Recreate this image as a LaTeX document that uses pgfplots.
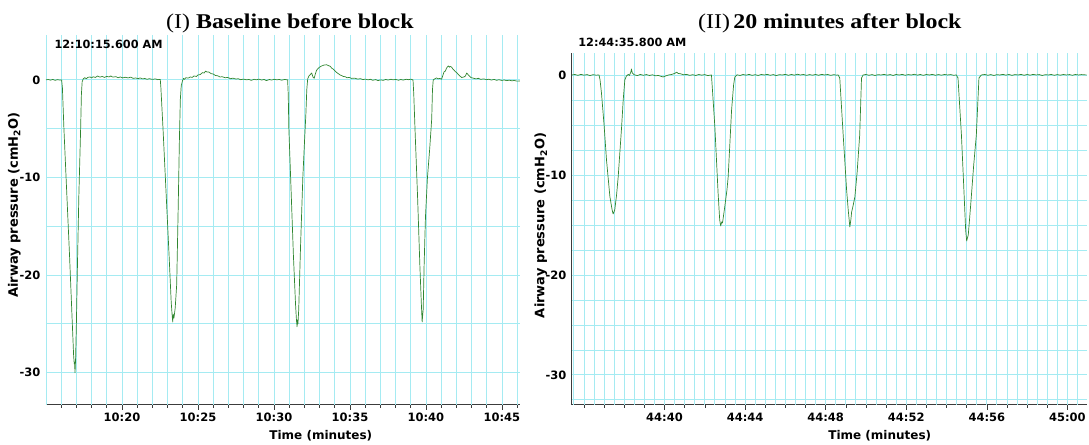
\documentclass[border=0pt]{standalone}
\usepackage{fontspec}
\setmainfont{DejaVu Sans}
\newfontfamily\ttlfont[FakeStretch=1.14]{Liberation Serif}
\usepackage{pgfplots}
\pgfplotsset{compat=1.18}
\definecolor{gridc}{RGB}{165,235,242}
\definecolor{trace}{RGB}{48,134,48}
\definecolor{axc}{RGB}{60,60,60}

\pgfplotsset{
  labchart/.style={
    scale only axis, anchor=south west,
    axis x line*=bottom, axis y line*=left,
    axis line style={axc, line width=0.9pt},
    tick align=outside,
    major tick length=5pt, minor tick length=3pt,
    xtick style={axc, line width=0.6pt},
    ytick style={draw=none},
    tick label style={font=\fontsize{11.5}{13}\bfseries\selectfont},
    yticklabel style={xshift=3pt},
    xlabel style={font=\fontsize{12}{14}\bfseries\selectfont, anchor=north},
    every axis y label/.style={rotate=90, anchor=center,
      font=\fontsize{13}{15}\bfseries\selectfont},
    extra x tick labels={}, extra y tick labels={},
    extra x tick style={grid=major, major tick length=0pt},
    extra y tick style={grid=major, major tick length=0pt},
    major grid style={gridc, line width=0.8pt},
    ytick={-30,-20,-10,0}, yticklabels={-30,-20,-10,0},
    xlabel={Time (minutes)},
    ylabel={Airway pressure (cmH\textsubscript{2}O)},
  },
  trc/.style={trace, line width=0.7pt, line join=round},
}

\begin{document}
\begin{tikzpicture}
\path (0pt,0pt) rectangle (1089pt,443pt);

% (I) baseline
\begin{axis}[labchart, at={(46pt,38pt)}, width=474pt, height=370pt,
  xmin=15, xmax=46.18, ymin=-33.3, ymax=4.6,
  xtick={20,25,...,45}, xticklabels={10:20,10:25,10:30,10:35,10:40,10:45},
  minor xtick={16,17,...,46},
  extra x ticks={15,16,...,46},
  extra y ticks={-30,-25,...,0},
  xlabel style={at={(axis description cs:0.58,0)}, yshift=-22pt},
  ylabel style={at={(axis description cs:-0.067,0.54)}},
]
\addplot[trc] table {
15.0 0.0
15.15 0.04
15.3 -0.03
15.45 0.05
15.6 -0.05
15.75 0.03
15.9 -0.02
16.03 0.0
16.08 -0.8
16.18 -5
16.35 -11
16.55 -18
16.72 -24.5
16.82 -28.3
16.86 -29.1
16.88 -28.9
16.91 -30.0
16.95 -28.5
17.0 -25
17.07 -19
17.16 -12
17.28 -5
17.33 -1.5
17.38 -0.2
17.45 0.1
17.55 0.22
17.65 0.12
17.75 0.25
17.9 0.3
18.0 0.2
18.1 0.32
18.25 0.25
18.4 0.4
18.55 0.28
18.7 0.35
18.85 0.25
19.0 0.36
19.15 0.3
19.26 0.4
19.4 0.28
19.6 0.33
19.75 0.22
19.9 0.3
20.05 0.2
20.2 0.27
20.4 0.2
20.57 0.28
20.75 0.15
20.9 0.2
21.05 0.12
21.2 0.2
21.35 0.1
21.5 0.14
21.65 0.06
21.8 0.12
22.0 0.05
22.2 0.1
22.35 0.02
22.52 0.05
22.56 -0.8
22.7 -5
22.9 -11.5
23.1 -18
23.24 -22.8
23.3 -24.1
23.34 -24.8
23.37 -24.0
23.42 -24.4
23.5 -23.4
23.6 -21
23.7 -13
23.78 -6
23.84 -2
23.9 -0.6
23.98 -0.1
24.05 0.15
24.12 0.05
24.2 0.22
24.35 0.18
24.5 0.3
24.62 0.25
24.74 0.4
24.9 0.35
25.0 0.5
25.15 0.55
25.3 0.75
25.4 0.7
25.5 0.9
25.6 0.8
25.72 0.8
25.85 0.65
26.0 0.6
26.15 0.45
26.3 0.42
26.45 0.3
26.6 0.32
26.8 0.22
26.95 0.25
27.15 0.12
27.3 0.18
27.5 0.08
27.65 0.12
27.8 0.02
28.0 0.08
28.2 0.0
28.35 0.05
28.5 -0.05
28.7 0.06
28.85 0.0
29.0 0.08
29.2 -0.02
29.35 0.05
29.5 -0.08
29.7 0.04
29.85 -0.02
30.0 0.06
30.2 0.0
30.35 0.05
30.5 -0.03
30.7 0.04
30.9 0.0
30.94 -1.5
30.98 -5
31.12 -11
31.28 -18
31.42 -23
31.48 -24.6
31.52 -25.3
31.55 -24.6
31.58 -25.0
31.63 -23.5
31.75 -17
31.9 -10
32.02 -6
32.1 -3.5
32.16 -1
32.22 0.1
32.3 0.4
32.42 0.6
32.48 0.7
32.58 0.25
32.65 0.17
32.72 0.6
32.81 1.0
32.9 1.15
33.0 1.3
33.14 1.43
33.3 1.52
33.47 1.55
33.6 1.45
33.7 1.4
33.8 1.2
33.9 1.1
34.0 0.95
34.13 0.75
34.25 0.62
34.35 0.5
34.45 0.45
34.56 0.35
34.7 0.32
34.8 0.22
34.95 0.25
35.11 0.15
35.3 0.18
35.5 0.08
35.7 0.12
35.85 0.03
36.0 0.08
36.2 0.0
36.35 0.06
36.5 -0.04
36.7 0.03
36.85 -0.08
37.0 0.0
37.2 -0.05
37.35 0.05
37.5 -0.02
37.7 0.06
37.85 0.0
38.0 0.05
38.2 -0.04
38.35 0.04
38.5 -0.02
38.7 0.06
38.85 0.02
39.0 0.07
39.15 0.0
39.2 -1.5
39.28 -5
39.45 -12
39.6 -19
39.7 -23
39.75 -24.8
39.78 -24.2
39.82 -23.5
39.88 -19
39.97 -14
40.1 -10
40.25 -7
40.38 -4
40.43 -1
40.48 0.0
40.6 0.12
40.7 0.2
40.8 0.1
40.9 0.15
41.03 0.07
41.1 0.4
41.2 0.85
41.28 0.9
41.35 1.2
41.47 1.43
41.55 1.3
41.6 1.38
41.69 1.3
41.78 1.1
41.85 1.0
41.93 0.85
42.02 0.75
42.1 0.6
42.2 0.45
42.35 0.24
42.5 0.3
42.6 0.4
42.68 0.7
42.74 0.6
42.85 0.4
42.96 0.24
43.1 0.18
43.3 0.1
43.45 0.16
43.6 0.05
43.8 0.1
44.0 0.02
44.15 0.07
44.3 -0.02
44.5 0.05
44.65 -0.05
44.8 0.02
45.0 -0.06
45.15 0.0
45.3 -0.08
45.5 -0.03
45.65 -0.1
45.8 -0.06
46.0 -0.13
46.18 -0.12
};
\end{axis}

% (II) 20 minutes after block
\begin{axis}[labchart, at={(572pt,38pt)}, width=515pt, height=352pt,
  xmin=35.4, xmax=60.96, ymin=-33.0, ymax=2.2,
  xtick={40,44,...,60}, xticklabels={44:40,44:44,44:48,44:52,44:56,45:00},
  minor xtick={36,37,...,60},
  extra x ticks={35.5,36,...,60.5},
  extra y ticks={-32.5,-30,...,0},
  xlabel style={at={(axis description cs:0.598,0)}, yshift=-22pt},
  ylabel style={at={(axis description cs:-0.06,0.51)}},
]
\addplot[trc] table {
35.4 0.0
35.55 0.05
35.7 -0.04
35.85 0.06
36.0 -0.02
36.15 0.04
36.3 -0.06
36.45 0.03
36.6 -0.02
36.75 0.0
36.8 -0.5
36.87 -1.8
37.0 -5
37.12 -8.5
37.29 -12.2
37.4 -13.5
37.45 -13.9
37.53 -13.5
37.62 -12
37.7 -10.2
37.87 -5.2
37.95 -2.5
38.03 -0.5
38.11 -0.1
38.2 0.05
38.26 -0.05
38.33 0.3
38.36 0.6
38.4 0.2
38.5 0.02
38.65 -0.06
38.8 0.05
38.95 -0.03
39.1 0.04
39.25 -0.05
39.4 0.02
39.55 -0.08
39.7 -0.05
39.85 -0.15
39.93 -0.2
40.05 -0.1
40.2 0.0
40.35 0.05
40.45 0.12
40.55 0.2
40.6 0.28
40.68 0.15
40.8 0.12
40.95 0.02
41.1 0.06
41.25 -0.04
41.4 0.03
41.55 -0.05
41.7 0.05
41.85 -0.02
42.0 0.04
42.15 -0.06
42.33 0.0
42.38 -1.5
42.5 -5.2
42.66 -11.8
42.74 -14.5
42.79 -15.1
42.84 -14.7
42.88 -14.8
42.99 -13.2
43.1 -11.5
43.16 -10.2
43.33 -3.5
43.43 -1
43.49 -0.2
43.6 0.02
43.75 -0.05
43.9 0.05
44.05 -0.02
44.2 0.06
44.35 -0.04
44.5 0.03
44.65 -0.05
44.8 0.05
44.95 0.0
45.1 0.06
45.25 -0.03
45.4 0.04
45.55 -0.06
45.7 0.03
45.85 0.0
46.0 0.06
46.15 -0.03
46.3 0.05
46.45 -0.02
46.6 0.07
46.75 0.0
46.9 0.05
47.05 -0.04
47.2 0.04
47.35 -0.02
47.5 0.05
47.65 -0.03
47.8 0.06
47.95 0.0
48.1 0.05
48.25 -0.04
48.4 0.03
48.55 -0.02
48.62 0.0
48.7 -0.3
48.87 -6
49.04 -11.5
49.12 -13.5
49.2 -15.2
49.25 -14.5
49.29 -13.7
49.37 -13
49.45 -12.2
49.56 -9.8
49.69 -6
49.78 -0.3
49.86 0.0
50.0 0.05
50.15 -0.03
50.3 0.04
50.45 -0.05
50.6 0.03
50.75 0.0
50.9 0.06
51.05 -0.02
51.2 0.04
51.35 -0.05
51.5 0.05
51.65 0.0
51.8 0.06
51.95 -0.03
52.1 0.04
52.25 0.0
52.4 0.07
52.55 -0.02
52.7 0.05
52.85 -0.04
53.0 0.05
53.15 0.0
53.3 0.06
53.45 -0.03
53.6 0.04
53.75 -0.02
53.9 0.05
54.05 0.0
54.2 0.04
54.35 -0.03
54.49 0.0
54.57 -0.3
54.74 -6
54.83 -10
54.95 -15.5
55.0 -16.6
55.08 -16.0
55.2 -13
55.35 -9
55.48 -6
55.61 -0.3
55.73 0.0
55.9 0.05
56.05 -0.03
56.2 0.04
56.35 -0.05
56.5 0.03
56.65 0.0
56.8 0.06
56.95 -0.02
57.1 0.05
57.25 -0.04
57.4 0.04
57.55 0.0
57.7 0.06
57.85 -0.03
58.0 0.05
58.15 -0.02
58.3 0.06
58.45 0.0
58.6 0.04
58.75 -0.05
58.9 0.03
59.05 0.0
59.2 0.05
59.35 -0.03
59.5 0.04
59.65 -0.02
59.8 0.05
59.95 0.0
60.1 0.04
60.25 -0.03
60.4 0.05
60.55 0.0
60.7 0.04
60.96 0.0
};
\end{axis}

\node[anchor=base west, font=\fontsize{11.3}{13}\bfseries\selectfont] at (51pt,394.7pt) {12:10:15.600 AM};
\node[anchor=base west, font=\fontsize{11.3}{13}\bfseries\selectfont] at (575pt,396.3pt) {12:44:35.800 AM};
\node[anchor=base, font=\ttlfont\fontsize{21}{23}\selectfont] at (290pt,414pt) {(I) \textbf{Baseline before block}};
\node[anchor=base, font=\ttlfont\fontsize{21}{23}\selectfont] at (830pt,414pt) {(II)\,\textbf{20 minutes after block}};
\end{tikzpicture}
\end{document}
